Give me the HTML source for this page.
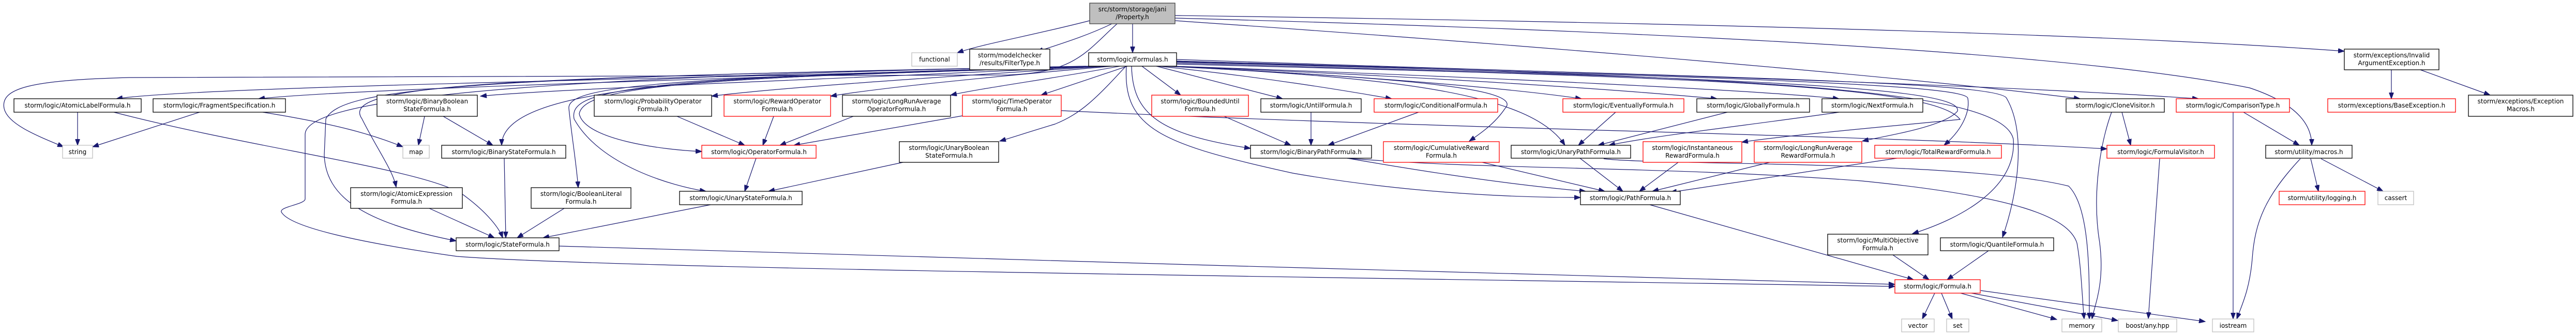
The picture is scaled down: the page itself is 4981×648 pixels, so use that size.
<!DOCTYPE html>
<html><head><meta charset="utf-8"><style>
html,body{margin:0;padding:0;background:#fff;}
svg{display:block;}
text{font-family:"DejaVu Sans","Liberation Sans",sans-serif;font-size:12px;fill:#000;text-anchor:middle;}
.n{fill:#fff;stroke:#000;stroke-width:1.3;}
.g{fill:#fff;stroke:#bfbfbf;stroke-width:1.3;}
.r{fill:#fff;stroke:#ff0000;stroke-width:1.3;}
.e{fill:none;stroke:#191970;stroke-width:1.2;marker-end:url(#a);}
</style></head><body>
<svg width="4981" height="648" viewBox="0 0 4981 648" xmlns="http://www.w3.org/2000/svg">
<defs><marker id="a" markerUnits="userSpaceOnUse" markerWidth="13" markerHeight="9" refX="12" refY="4.5" orient="auto"><path d="M0,0 L12,4.5 L0,9 z" fill="#191970" stroke="#191970"/></marker></defs>

<!-- edges -->
<g>
<!-- Property -->
<path class="e" d="M2107,40 C1990,70 1900,85 1851,102"/>
<path class="e" d="M2150,46 C2100,70 2050,85 2005,100"/>
<path class="e" d="M2190,46 L2190,102"/>
<path class="e" d="M2160,46 C2100,100 2080,140 1950,145 L250,150 C60,155 0,170 8,210 C15,240 70,262 123,284"/>
<path class="e" d="M2272,30 C3000,40 4000,60 4533,99"/>
<path class="e" d="M2272,35 C3200,60 4000,100 4350,170 C4440,200 4470,240 4470,281"/>
<path class="e" d="M2272,40 C3000,90 3700,150 4022,191"/>
<!-- Formulas -->
<path class="e" d="M2120,128 C1500,150 400,165 225,191"/>
<path class="e" d="M2125,128 C1500,150 700,170 500,191"/>
<path class="e" d="M2130,128 C1700,150 1100,170 929,186"/>
<path class="e" d="M2130,128 C1500,150 970,150 970,281"/>
<path class="e" d="M2115,128 C1000,150 650,160 700,230 C730,290 760,330 766,362"/>
<path class="e" d="M2110,128 C900,150 660,170 630,230 L627,300 C630,380 700,430 882,466"/>
<path class="e" d="M2100,128 C900,150 590,200 590,260 L590,385 C590,395 540,400 544,410 C560,440 700,470 884,496 C1200,520 2500,535 3664,554"/>
<path class="e" d="M2140,128 C1800,150 1500,170 1376,186"/>
<path class="e" d="M2150,128 C1900,150 1700,170 1606,186"/>
<path class="e" d="M2140,128 C1300,150 1130,170 1120,220 C1130,270 1280,290 1357,293"/>
<path class="e" d="M2135,128 C1200,150 1100,175 1110,230 C1160,320 1300,360 1365,370"/>
<path class="e" d="M2125,128 C1300,150 1095,165 1100,210 C1105,260 1115,320 1118,363"/>
<path class="e" d="M2165,128 C2050,150 1900,170 1838,184"/>
<path class="e" d="M2180,128 L2013,184"/>
<path class="e" d="M2177,128 C2120,190 2090,220 2040,240 C1990,255 1960,265 1933,273"/>
<path class="e" d="M2208,128 L2283,184"/>
<path class="e" d="M2236,128 L2480,191"/>
<path class="e" d="M2188,128 C2190,220 2240,260 2418,287"/>
<path class="e" d="M2240,128 C2450,150 2600,175 2691,191"/>
<path class="e" d="M2250,128 C2700,150 2950,170 2910,210 C2890,240 2860,260 2841,273"/>
<path class="e" d="M2255,128 C2700,150 2960,180 3026,281"/>
<path class="e" d="M2260,128 C2700,150 2950,175 3058,191"/>
<path class="e" d="M2265,128 C2800,150 3150,175 3320,191"/>
<path class="e" d="M2268,128 C2900,150 3400,175 3556,191"/>
<path class="e" d="M2270,124 C3300,150 3740,165 3790,231 C3700,240 3450,262 3368,275"/>
<path class="e" d="M2272,122 C3300,150 3800,165 3785,215 C3760,245 3650,262 3601,273"/>
<path class="e" d="M2273,120 C3400,150 3800,165 3805,190 C3810,220 3790,255 3759,281"/>
<path class="e" d="M2274,119 C3400,150 3870,170 3893,269 C3900,360 3800,420 3698,452"/>
<path class="e" d="M2275,118 C3400,150 3866,160 3880,190 C3920,260 3900,380 3872,459"/>
<path class="e" d="M2178,128 C2170,250 2250,280 2500,335 C2700,370 2900,382 3056,382"/>
<path class="e" d="M2275,115 C3000,140 3800,160 4251,191"/>
<!-- left side -->
<path class="e" d="M150,217 L150,281"/>
<path class="e" d="M220,217 C500,290 840,330 900,380 C940,410 965,440 972,460"/>
<path class="e" d="M386,217 L179,284"/>
<path class="e" d="M508,217 C650,240 720,260 779,284"/>
<path class="e" d="M821,225 L809,281"/>
<path class="e" d="M857,225 L953,281"/>
<path class="e" d="M830,403 L956,460"/>
<path class="e" d="M975,306 L978,460"/>
<path class="e" d="M1091,403 L1000,460"/>
<path class="e" d="M1374,396 L1050,460"/>
<path class="e" d="M1081,476 C1800,500 3000,530 3664,550"/>
<path class="e" d="M1309,225 L1440,281"/>
<path class="e" d="M1496,225 L1475,281"/>
<path class="e" d="M1650,225 L1508,281"/>
<path class="e" d="M1861,224 L1535,281"/>
<path class="e" d="M1462,306 L1440,370"/>
<path class="e" d="M1746,314 L1486,370"/>
<path class="e" d="M2052,214 C2800,250 3600,260 4074,288"/>
<!-- path formulas -->
<path class="e" d="M2535,217 L2535,281"/>
<path class="e" d="M2367,225 L2496,281"/>
<path class="e" d="M2743,217 L2568,281"/>
<path class="e" d="M2605,306 C2800,340 2950,360 3066,370"/>
<path class="e" d="M2605,306 C2900,330 3200,320 3600,350 C3900,380 4000,420 4016,470 C4025,520 4026,580 4030,617"/>
<path class="e" d="M2866,314 L3103,370"/>
<path class="e" d="M3055,306 L3138,370"/>
<path class="e" d="M3101,307 C3200,320 3800,310 4000,360 C4040,400 4040,520 4040,617"/>
<path class="e" d="M3245,314 L3170,370"/>
<path class="e" d="M3422,314 L3195,370"/>
<path class="e" d="M3668,306 L3230,372"/>
<path class="e" d="M3124,217 L3052,281"/>
<path class="e" d="M3340,217 L3090,281"/>
<path class="e" d="M3556,217 C3400,240 3200,262 3111,281"/>
<path class="e" d="M3190,396 L3700,541"/>
<path class="e" d="M3660,493 L3730,541"/>
<path class="e" d="M3845,485 L3765,541"/>
<!-- Formula.h -->
<path class="e" d="M3741,567 L3717,617"/>
<path class="e" d="M3754,567 L3775,617"/>
<path class="e" d="M3791,567 L3977,618"/>
<path class="e" d="M3812,567 L4095,620"/>
<path class="e" d="M3830,562 L4264,622"/>
<!-- right -->
<path class="e" d="M4083,217 C4060,280 4045,380 4060,470 C4070,550 4050,590 4045,617"/>
<path class="e" d="M4103,217 L4120,281"/>
<path class="e" d="M4176,307 L4154,616"/>
<path class="e" d="M4318,217 L4318,617"/>
<path class="e" d="M4338,217 L4446,281"/>
<path class="e" d="M4448,307 C4380,380 4360,430 4355,500 C4350,560 4335,590 4325,617"/>
<path class="e" d="M4468,307 L4483,370"/>
<path class="e" d="M4488,307 L4608,370"/>
<path class="e" d="M4624,135 L4624,191"/>
<path class="e" d="M4680,135 L4815,184"/>
</g>

<!-- nodes -->
<rect x="2107" y="6" width="165" height="40" style="fill:#bfbfbf;stroke:#404040;stroke-width:1.3"/>
<text x="2189.5" y="22">src/storm/storage/jani</text><text x="2189.5" y="37">/Property.h</text>
<rect class="g" x="1763" y="102" width="88" height="26"/><text x="1807" y="119">functional</text>
<rect class="n" x="1875" y="95" width="155" height="40"/><text x="1952.5" y="111">storm/modelchecker</text><text x="1952.5" y="126">/results/FilterType.h</text>
<rect class="n" x="2105" y="102" width="170" height="26"/><text x="2190" y="119">storm/logic/Formulas.h</text>
<rect class="n" x="4533" y="95" width="183" height="40"/><text x="4624.5" y="111">storm/exceptions/Invalid</text><text x="4624.5" y="126">ArgumentException.h</text>

<rect class="n" x="27" y="191" width="246" height="26"/><text x="150" y="208">storm/logic/AtomicLabelFormula.h</text>
<rect class="n" x="296" y="191" width="256" height="26"/><text x="424" y="208">storm/logic/FragmentSpecification.h</text>
<rect class="n" x="729" y="184" width="194" height="41"/><text x="826" y="200">storm/logic/BinaryBoolean</text><text x="826" y="215">StateFormula.h</text>
<rect class="n" x="1149" y="184" width="227" height="41"/><text x="1262.5" y="200">storm/logic/ProbabilityOperator</text><text x="1262.5" y="215">Formula.h</text>
<rect class="r" x="1400" y="184" width="206" height="41"/><text x="1503" y="200">storm/logic/RewardOperator</text><text x="1503" y="215">Formula.h</text>
<rect class="n" x="1629" y="184" width="209" height="41"/><text x="1733.5" y="200">storm/logic/LongRunAverage</text><text x="1733.5" y="215">OperatorFormula.h</text>
<rect class="r" x="1861" y="184" width="191" height="41"/><text x="1956.5" y="200">storm/logic/TimeOperator</text><text x="1956.5" y="215">Formula.h</text>
<rect class="r" x="2227" y="184" width="187" height="41"/><text x="2320.5" y="200">storm/logic/BoundedUntil</text><text x="2320.5" y="215">Formula.h</text>
<rect class="n" x="2438" y="191" width="194" height="26"/><text x="2535" y="208">storm/logic/UntilFormula.h</text>
<rect class="r" x="2657" y="191" width="239" height="26"/><text x="2776.5" y="208">storm/logic/ConditionalFormula.h</text>
<rect class="r" x="3022" y="191" width="234" height="26"/><text x="3139" y="208">storm/logic/EventuallyFormula.h</text>
<rect class="n" x="3281" y="191" width="218" height="26"/><text x="3390" y="208">storm/logic/GloballyFormula.h</text>
<rect class="n" x="3523" y="191" width="195" height="26"/><text x="3620.5" y="208">storm/logic/NextFormula.h</text>
<rect class="n" x="3995" y="191" width="190" height="26"/><text x="4090" y="208">storm/logic/CloneVisitor.h</text>
<rect class="r" x="4208" y="191" width="219" height="26"/><text x="4317.5" y="208">storm/logic/ComparisonType.h</text>
<rect class="r" x="4501" y="191" width="247" height="26"/><text x="4624.5" y="208">storm/exceptions/BaseException.h</text>
<rect class="n" x="4773" y="184" width="202" height="41"/><text x="4874" y="200">storm/exceptions/Exception</text><text x="4874" y="215">Macros.h</text>

<rect class="g" x="121" y="281" width="58" height="25"/><text x="150" y="298">string</text>
<rect class="g" x="779" y="281" width="51" height="25"/><text x="804.5" y="298">map</text>
<rect class="n" x="854" y="281" width="240" height="25"/><text x="974" y="298">storm/logic/BinaryStateFormula.h</text>
<rect class="r" x="1357" y="281" width="221" height="25"/><text x="1467.5" y="298">storm/logic/OperatorFormula.h</text>
<rect class="n" x="1739" y="274" width="192" height="40"/><text x="1835" y="290">storm/logic/UnaryBoolean</text><text x="1835" y="305">StateFormula.h</text>
<rect class="n" x="2418" y="281" width="234" height="25"/><text x="2535" y="298">storm/logic/BinaryPathFormula.h</text>
<rect class="r" x="2675" y="274" width="224" height="40"/><text x="2787" y="290">storm/logic/CumulativeReward</text><text x="2787" y="305">Formula.h</text>
<rect class="n" x="2922" y="281" width="231" height="25"/><text x="3037.5" y="298">storm/logic/UnaryPathFormula.h</text>
<rect class="r" x="3177" y="274" width="191" height="40"/><text x="3272.5" y="290">storm/logic/Instantaneous</text><text x="3272.5" y="305">RewardFormula.h</text>
<rect class="r" x="3392" y="274" width="208" height="40"/><text x="3496" y="290">storm/logic/LongRunAverage</text><text x="3496" y="305">RewardFormula.h</text>
<rect class="r" x="3625" y="281" width="245" height="25"/><text x="3747.5" y="298">storm/logic/TotalRewardFormula.h</text>
<rect class="r" x="4074" y="281" width="208" height="25"/><text x="4178" y="298">storm/logic/FormulaVisitor.h</text>
<rect class="n" x="4381" y="281" width="167" height="25"/><text x="4464.5" y="298">storm/utility/macros.h</text>

<rect class="n" x="678" y="363" width="216" height="40"/><text x="786" y="379">storm/logic/AtomicExpression</text><text x="786" y="394">Formula.h</text>
<rect class="n" x="1027" y="363" width="193" height="40"/><text x="1123.5" y="379">storm/logic/BooleanLiteral</text><text x="1123.5" y="394">Formula.h</text>
<rect class="n" x="1314" y="370" width="237" height="26"/><text x="1432.5" y="387">storm/logic/UnaryStateFormula.h</text>
<rect class="n" x="3056" y="370" width="193" height="26"/><text x="3152.5" y="387">storm/logic/PathFormula.h</text>
<rect class="r" x="4407" y="370" width="166" height="26"/><text x="4490" y="387">storm/utility/logging.h</text>
<rect class="g" x="4598" y="370" width="69" height="26"/><text x="4632.5" y="387">cassert</text>

<rect class="n" x="882" y="460" width="199" height="25"/><text x="981.5" y="477">storm/logic/StateFormula.h</text>
<rect class="n" x="3534" y="453" width="194" height="40"/><text x="3631" y="469">storm/logic/MultiObjective</text><text x="3631" y="484">Formula.h</text>
<rect class="n" x="3752" y="460" width="219" height="25"/><text x="3861.5" y="477">storm/logic/QuantileFormula.h</text>
<rect class="r" x="3664" y="541" width="165" height="26"/><text x="3746.5" y="558">storm/logic/Formula.h</text>

<rect class="g" x="3677" y="617" width="63" height="25"/><text x="3708.5" y="634">vector</text>
<rect class="g" x="3764" y="617" width="43" height="25"/><text x="3785.5" y="634">set</text>
<rect class="g" x="3987" y="617" width="77" height="25"/><text x="4025.5" y="634">memory</text>
<rect class="g" x="4096" y="617" width="113" height="25"/><text x="4152.5" y="634">boost/any.hpp</text>
<rect class="g" x="4278" y="617" width="80" height="25"/><text x="4318" y="634">iostream</text>
</svg>
</body></html>
